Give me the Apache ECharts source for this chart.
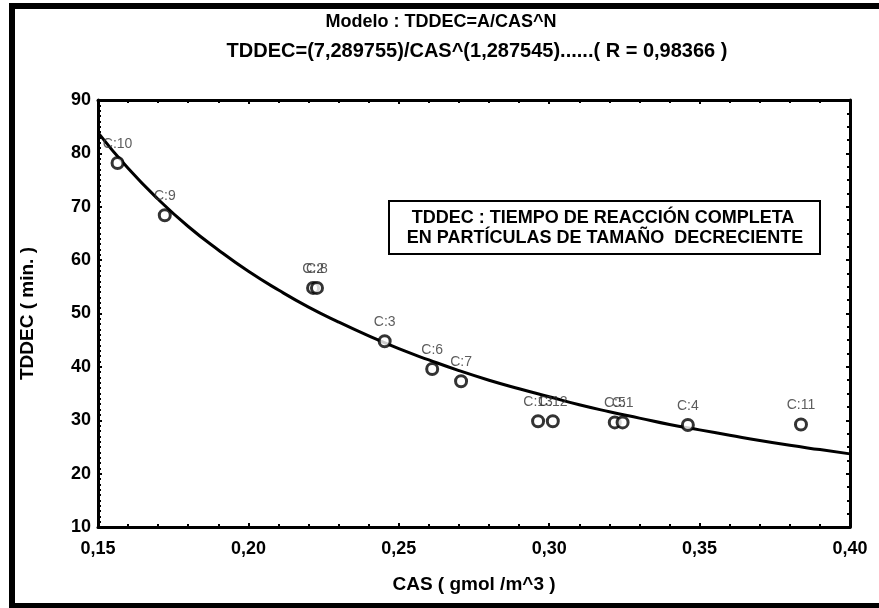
<!DOCTYPE html>
<html>
<head>
<meta charset="utf-8">
<script src="https://cdn.jsdelivr.net/npm/echarts@6/dist/echarts.min.js"></script>
<style>
html,body{margin:0;padding:0;background:#fff;}
#chart{width:879px;height:608px;}
</style>
</head>
<body>
<div id="chart"></div>
<script>
// puntos experimentales
const pointNames = ['C:10','C:9','C:2','C:8','C:3','C:6','C:7','C:13','C:12','C:5','C:1','C:4','C:11']
const casValues = [0.1565,0.1722,0.2215,0.2228,0.2453,0.2611,0.2707,0.2963,0.3012,0.3218,0.3244,0.3461,0.3837]
const tddecValues = [78.2,68.4,54.8,54.8,44.8,39.6,37.3,29.8,29.8,29.6,29.6,29.1,29.2]

// curva ajustada
const curveX = [0.15,0.16,0.17,0.18,0.19,0.20,0.21,0.22,0.23,0.24,0.25,0.26,0.27,0.28,0.29,0.30,0.31,0.32,0.33,0.34,0.35,0.36,0.37,0.38,0.39,0.40]
const curveY = [83.9,77.2,71.4,66.3,61.9,57.9,54.4,51.2,48.4,45.8,43.4,41.3,39.3,37.5,35.9,34.4,32.9,31.6,30.4,29.2,28.2,27.2,26.2,25.3,24.5,23.7]

const xTicks = {min:0.15,max:0.40,interval:0.05}
const yTicks = {min:10,max:90,interval:10}

const boldFont = "'Liberation Sans Narrow','Liberation Sans',Arial,sans-serif"
const chart = echarts.init(document.getElementById('chart'))

const axisCommon = {
    axisLine:{show:true,onZero:false,lineStyle:{color:'#000',width:3}},
    axisTick:{show:true,inside:true,length:4,lineStyle:{color:'#000',width:2}},
    minorTick:{show:true,length:3,lineStyle:{color:'#000',width:2}},
    splitLine:{show:false}
}

const option = {
    backgroundColor:'#fff',
    animation:false,
    title:[
        {text:'Modelo : TDDEC=A/CAS^N',left:436,top:8,textAlign:'center',
         textStyle:{fontFamily:boldFont,fontWeight:'bold',fontSize:18,color:'#000'}},
        {text:'TDDEC=(7,289755)/CAS^(1,287545)......( R = 0,98366 )',left:472,top:36,textAlign:'center',
         textStyle:{fontFamily:boldFont,fontWeight:'bold',fontSize:20,color:'#000'}}
    ],
    grid:{left:98,right:29,top:100,bottom:81,containLabel:false},
    xAxis:[
        Object.assign({},axisCommon,{
            type:'value',min:xTicks.min,max:xTicks.max,interval:xTicks.interval,position:'bottom',
            minorTick:Object.assign({},axisCommon.minorTick,{splitNumber:5}),
            axisLabel:{margin:13,fontFamily:boldFont,fontWeight:'bold',fontSize:18,color:'#000',
                formatter:v=>v.toFixed(2).replace('.',',')},
            name:'CAS ( gmol /m^3 )',nameLocation:'middle',nameGap:48,
            nameTextStyle:{fontFamily:boldFont,fontWeight:'bold',fontSize:19,color:'#000'}
        }),
        Object.assign({},axisCommon,{
            type:'value',min:xTicks.min,max:xTicks.max,interval:xTicks.interval,position:'top',
            minorTick:Object.assign({},axisCommon.minorTick,{splitNumber:5}),
            axisLabel:{show:false}
        })
    ],
    yAxis:[
        Object.assign({},axisCommon,{
            type:'value',min:yTicks.min,max:yTicks.max,interval:yTicks.interval,position:'left',
            minorTick:Object.assign({},axisCommon.minorTick,{splitNumber:10}),
            axisLabel:{margin:7,fontFamily:boldFont,fontWeight:'bold',fontSize:18,color:'#000'},
            name:'TDDEC ( min. )',nameLocation:'middle',nameGap:61,
            nameTextStyle:{fontFamily:boldFont,fontWeight:'bold',fontSize:19,color:'#000'}
        }),
        Object.assign({},axisCommon,{
            type:'value',min:yTicks.min,max:yTicks.max,interval:yTicks.interval,position:'right',
            minorTick:Object.assign({},axisCommon.minorTick,{splitNumber:4}),
            axisLabel:{show:false}
        })
    ],
    graphic:[
        {type:'rect',shape:{x:12,y:6,width:880,height:600},
         style:{fill:'none',stroke:'#000',lineWidth:6},silent:true},
        {type:'group',left:388,top:200,children:[
            {type:'rect',shape:{x:0,y:0,width:431,height:53},
             style:{fill:'#fff',stroke:'#000',lineWidth:2}},
            {type:'text',x:214,y:17,style:{text:'TDDEC : TIEMPO DE REACCIÓN COMPLETA',
             fontFamily:"'Liberation Sans',Arial,sans-serif",fontWeight:'bold',fontSize:18,fill:'#000',
             align:'center',verticalAlign:'middle'}},
            {type:'text',x:216,y:37,style:{text:'EN PARTÍCULAS DE TAMAÑO  DECRECIENTE',
             fontFamily:"'Liberation Sans',Arial,sans-serif",fontWeight:'bold',fontSize:18,fill:'#000',
             align:'center',verticalAlign:'middle'}}
        ]}
    ],
    series:[
        {
            type:'line',
            data:curveX.map((x,i)=>[x,curveY[i]]),
            smooth:true,
            showSymbol:false,
            clip:true,
            lineStyle:{color:'#000',width:3},
            z:2
        },
        {
            type:'scatter',
            data:casValues.map((x,i)=>({value:[x,tddecValues[i]],name:pointNames[i]})),
            symbol:'circle',
            symbolSize:11,
            itemStyle:{color:'#fff',borderColor:'#000',borderWidth:3},
            label:{show:true,position:'top',distance:5,formatter:p=>p.name,
                fontFamily:"'Liberation Sans',Arial,sans-serif",fontSize:14,color:'#333'},
            labelLayout:{hideOverlap:false},
            z:3
        }
    ]
}
chart.setOption(option)
</script>
</body>
</html>
